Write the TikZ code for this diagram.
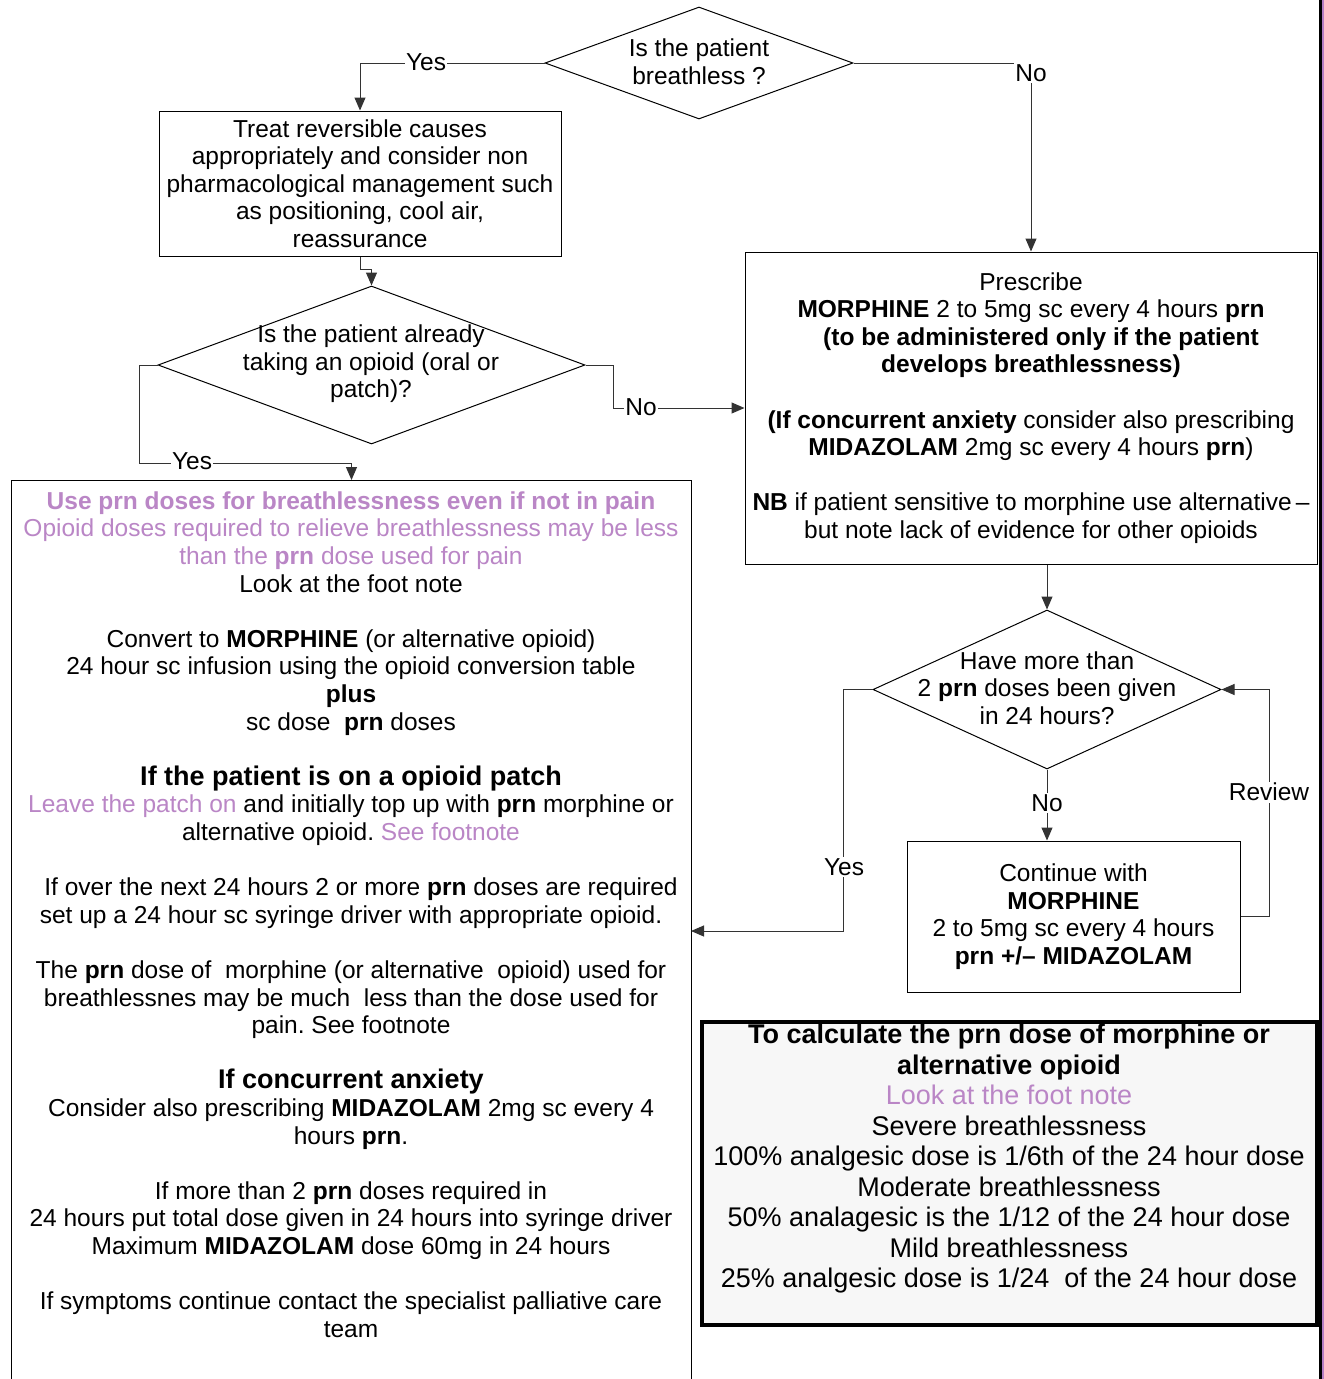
\documentclass[tikz,border=0pt]{standalone}
\usepackage{fontspec}
\setmainfont{Liberation Sans}
\usetikzlibrary{arrows.meta,shapes.geometric}
\definecolor{pinktxt}{RGB}{186,134,198}
\definecolor{edgepurple}{RGB}{180,126,196}
\definecolor{calcfill}{RGB}{247,247,247}
\newcommand{\pk}[1]{\textcolor{pinktxt}{#1}}
\newcommand{\bigb}[1]{{\fontsize{27}{27.6}\selectfont\bfseries #1}}
\begin{document}
\frenchspacing
\begin{tikzpicture}[x=1pt,y=-1pt,
  txt/.style={font=\fontsize{24.5}{27.6}\selectfont, align=center, inner sep=0pt},
  box/.style={draw=black, line width=1pt, fill=white, rectangle, inner sep=0pt},
  decision/.style={draw=black, line width=1pt, fill=white, diamond, inner sep=0pt},
  flow/.style={draw=black!80, line width=1pt, -{Triangle[length=13pt,width=11pt]}},
  lab/.style={txt, fill=white, inner sep=1.5pt}]
\useasboundingbox (0,0) rectangle (1324,1379);
\clip (0,0) rectangle (1324,1379);

% decisions
\node[decision, minimum width=308, minimum height=112] (d1) at (699,63) {};
\node[txt] (d1t) at (699,62) {Is the patient\\breathless ?};
\node[decision, minimum width=427, minimum height=158] (d2) at (371.5,365) {};
\node[txt] (d2t) at (371,364) {Is the patient already\\taking an opioid (oral or\\patch)?};
\node[decision, minimum width=348, minimum height=159] (d3) at (1047,689.5) {};
\node[txt] (d3t) at (1047,688) {Have more than\\2 \textbf{prn} doses been given\\in 24 hours?};

% action boxes
\node[box, txt, minimum width=402, minimum height=145] (treat) at (360,183.5)
  {Treat reversible causes\\appropriately and consider non\\pharmacological management such\\as positioning, cool air,\\reassurance};

\node[box, txt, minimum width=572, minimum height=312] (presc) at (1031,408)
  {Prescribe\\\textbf{MORPHINE} 2 to 5mg sc every 4 hours \textbf{prn}\\
   \hspace*{20pt}\textbf{(to be administered only if the patient}\\
   \textbf{develops breathlessness)}\\[27.6pt]
   \textbf{(If concurrent anxiety} consider also prescribing\\
   \textbf{MIDAZOLAM} 2mg sc every 4 hours \textbf{prn})\\[27.6pt]
   \textbf{NB} if patient sensitive to morphine use alternative\,--\\
   but note lack of evidence for other opioids};

\node[box, txt, minimum width=333, minimum height=151] (cont) at (1073.5,916.5)
  {Continue with\\\textbf{MORPHINE}\\2 to 5mg sc every 4 hours\\\textbf{prn +/-- MIDAZOLAM}};

% large guidance box (runs off the lower edge)
\node[box, minimum width=680, minimum height=960, anchor=north west] (lbox) at (11,480) {};
\node[txt] (lboxt) at (351,914.5)
  {\pk{\textbf{Use prn doses for breathlessness even if not in pain}}\\
   \pk{Opioid doses required to relieve breathlessness may be less}\\
   \pk{than the \textbf{prn} dose used for pain}\\
   Look at the foot note\\[27.6pt]
   Convert to \textbf{MORPHINE} (or alternative opioid)\\
   24 hour sc infusion using the opioid conversion table\\
   \textbf{plus}\\
   sc dose\ \ \textbf{prn} doses\\[27.6pt]
   \bigb{If the patient is on a opioid patch}\\
   \pk{Leave the patch on} and initially top up with \textbf{prn} morphine or\\
   alternative opioid. \pk{See footnote}\\[27.6pt]
   \hspace*{20pt}If over the next 24 hours 2 or more \textbf{prn} doses are required\\
   set up a 24 hour sc syringe driver with appropriate opioid.\\[27.6pt]
   The \textbf{prn} dose of\ \ morphine (or alternative\ \ opioid) used for\\
   breathlessnes may be much\ \ less than the dose used for\\
   pain. See footnote\\[27.6pt]
   \bigb{If concurrent anxiety}\\
   Consider also prescribing \textbf{MIDAZOLAM} 2mg sc every 4\\
   hours \textbf{prn}.\\[27.6pt]
   If more than 2 \textbf{prn} doses required in\\
   24 hours put total dose given in 24 hours into syringe driver\\
   Maximum \textbf{MIDAZOLAM} dose 60mg in 24 hours\\[27.6pt]
   If symptoms continue contact the specialist palliative care\\
   team};

% dose calculation panel
\node[draw=black, line width=4pt, fill=calcfill, rectangle, minimum width=615, minimum height=303] (calc) at (1009.5,1173.5) {};
\node[txt, font=\fontsize{27}{30.5}\selectfont] (calct) at (1009,1159)
  {\textbf{To calculate the prn dose of morphine or}\\
   \textbf{alternative opioid}\\
   \pk{Look at the foot note}\\
   Severe breathlessness\\
   100\% analgesic dose is 1/6th of the 24 hour dose\\
   Moderate breathlessness\\
   50\% analagesic is the 1/12 of the 24 hour dose\\
   Mild breathlessness\\
   25\% analgesic dose is 1/24\ \ of the 24 hour dose};

% connectors
\draw[flow] (d1.west) -| (treat.north);
\node[lab] (y1) at (426,62) {Yes};
\draw[flow] (d1.east) -| (presc.north);
\node[lab] (n1) at (1031,73) {No};

\draw[flow] (treat.south) -- ++(0,13) -| (d2.north);

\draw[flow] (d2.west) -- ++(-18,0) -- ++(0,98) -| (lbox.north);
\node[lab] (y2) at (192,461) {Yes};
\draw[flow] (d2.east) -- ++(28,0) |- (presc.west);
\node[lab] (n2) at (641,407) {No};

\draw[flow] (presc.south -| d3.north) -- (d3.north);

\coordinate (yesin) at (691,931);
\draw[flow] (d3.west) -- ++(-29,0) |- (yesin);
\node[lab] (y3) at (844,867) {Yes};
\draw[flow] (d3.south) -- (d3.south |- cont.north);
\node[lab] (n3) at (1047,803) {No};
\draw[flow] (cont.east) -- ++(29,0) |- (d3.east);
\node[lab] (rv) at (1269,792) {Review};

% page edge rules
\draw[line width=2.2pt] (1320.5,0) -- (1320.5,1379);
\draw[edgepurple, line width=2pt] (1323,0) -- (1323,1379);
\end{tikzpicture}
\end{document}
